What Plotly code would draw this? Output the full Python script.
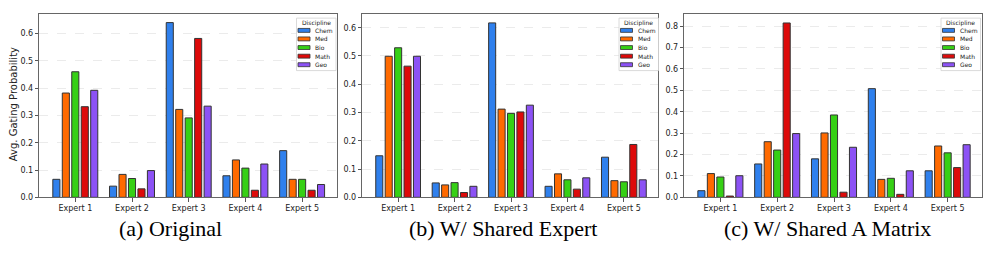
import plotly.graph_objects as go

W, H = 996, 254

experts = ["Expert 1", "Expert 2", "Expert 3", "Expert 4", "Expert 5"]
disciplines = ["Chem", "Med", "Bio", "Math", "Geo"]
colors = ["#2f80ed", "#ff6a00", "#36d015", "#dd0a0a", "#8c52f5"]

# (a) Original
orig_chem = [0.066, 0.041, 0.640, 0.079, 0.171]
orig_med = [0.382, 0.084, 0.322, 0.137, 0.066]
orig_bio = [0.460, 0.069, 0.291, 0.107, 0.066]
orig_math = [0.332, 0.031, 0.582, 0.026, 0.026]
orig_geo = [0.392, 0.098, 0.334, 0.122, 0.047]

# (b) W/ Shared Expert
se_chem = [0.147, 0.051, 0.617, 0.039, 0.142]
se_med = [0.499, 0.044, 0.312, 0.083, 0.059]
se_bio = [0.529, 0.052, 0.297, 0.062, 0.055]
se_math = [0.464, 0.017, 0.302, 0.029, 0.187]
se_geo = [0.499, 0.039, 0.326, 0.069, 0.062]

# (c) W/ Shared A Matrix
sa_chem = [0.031, 0.156, 0.180, 0.508, 0.124]
sa_med = [0.111, 0.260, 0.301, 0.084, 0.240]
sa_bio = [0.095, 0.221, 0.385, 0.089, 0.208]
sa_math = [0.006, 0.815, 0.024, 0.014, 0.139]
sa_geo = [0.101, 0.298, 0.234, 0.124, 0.246]

subtitles = ["(a) Original", "(b) W/ Shared Expert", "(c) W/ Shared A Matrix"]
y_title = "Avg. Gating Probability"
legend_title = "Discipline"

panels = [
    [orig_chem, orig_med, orig_bio, orig_math, orig_geo],
    [se_chem, se_med, se_bio, se_math, se_geo],
    [sa_chem, sa_med, sa_bio, sa_math, sa_geo],
]

# ---- layout geometry (pixels) ----
plot_x = [(39.3, 336.7), (362.3, 658.3), (684.3, 982.3)]
plot_top, plot_bot = 14.7, 201.3
yranges = [[0, 0.670], [0, 0.647], [0, 0.855]]
yticks = [[0, 0.1, 0.2, 0.3, 0.4, 0.5, 0.6],
          [0, 0.1, 0.2, 0.3, 0.4, 0.5, 0.6],
          [0, 0.1, 0.2, 0.3, 0.4, 0.5, 0.6, 0.7, 0.8]]
sub_cx = [170, 503, 827]
legend_left = [296.5, 619, 941]

def px(x):
    return x / W

def py(y):
    return 1 - y / H

fig = go.Figure()
pitch = 0.167
bw = 0.125
for p, series in enumerate(panels):
    sfx = "" if p == 0 else str(p + 1)
    for j, vals in enumerate(series):
        xs = [i + (j - 2) * pitch for i in range(len(experts))]
        fig.add_trace(go.Bar(
            x=xs, y=vals, width=bw, name=disciplines[j],
            marker=dict(color=colors[j], line=dict(color="#333333", width=1)),
            xaxis="x" + sfx, yaxis="y" + sfx, showlegend=False,
        ))

tickfont = dict(family="DejaVu Sans", size=8, color="#222222")
layout = dict(
    width=W, height=H, margin=dict(l=0, r=0, t=0, b=0),
    paper_bgcolor="white", plot_bgcolor="white",
    barmode="overlay", showlegend=False,
)
shapes = []
annotations = []
for p in range(3):
    sfx = "" if p == 0 else str(p + 1)
    x0, x1 = plot_x[p]
    layout["xaxis" + sfx] = dict(
        domain=[px(x0), px(x1)], range=[-0.635, 4.61],
        tickvals=list(range(len(experts))), ticktext=experts,
        ticks="outside", ticklen=3.5, tickcolor="#555555", tickwidth=1,
        showline=True, mirror=True, linecolor="#666666", linewidth=1,
        showgrid=False, zeroline=False, tickfont=tickfont,
        anchor="y" + sfx, fixedrange=True,
    )
    layout["yaxis" + sfx] = dict(
        domain=[py(plot_bot), py(plot_top)], range=yranges[p],
        tickvals=yticks[p], tickformat=".1f",
        ticks="outside", ticklen=3.5, tickcolor="#555555", tickwidth=1,
        showline=True, mirror=True, linecolor="#666666", linewidth=1,
        showgrid=True, gridcolor="#e6e6e6", griddash="dash", gridwidth=0.8,
        zeroline=False, tickfont=tickfont,
        anchor="x" + sfx, fixedrange=True,
    )
    annotations.append(dict(
        text=subtitles[p], x=px(sub_cx[p]), y=py(233), xref="paper", yref="paper",
        xanchor="center", yanchor="middle", showarrow=False,
        font=dict(family="Liberation Serif", size=22, color="black"),
    ))
    # legend box
    lx = legend_left[p]
    shapes.append(dict(type="rect", xref="paper", yref="paper",
                       x0=px(lx), x1=px(lx + 39.5), y0=py(72), y1=py(18.5),
                       fillcolor="white", line=dict(color="#d0d0d0", width=0.8),
                       layer="above"))
    annotations.append(dict(
        text=legend_title, x=px(lx + 19.5), y=py(23), xref="paper", yref="paper",
        xanchor="center", yanchor="middle", showarrow=False,
        font=dict(family="DejaVu Sans", size=6, color="#222222"),
    ))
    rows = [31, 39.7, 48.5, 57.3, 66]
    for j, d in enumerate(disciplines):
        ry = rows[j]
        shapes.append(dict(type="rect", xref="paper", yref="paper",
                           x0=px(lx + 1.5), x1=px(lx + 13.5),
                           y0=py(ry + 2), y1=py(ry - 2),
                           fillcolor=colors[j], line=dict(color="#333333", width=0.8),
                           layer="above"))
        annotations.append(dict(
            text=d, x=px(lx + 16.5), y=py(ry), xref="paper", yref="paper",
            xanchor="left", yanchor="middle", showarrow=False,
            font=dict(family="DejaVu Sans", size=6, color="#222222"),
        ))

annotations.append(dict(
    text=y_title, x=px(14.3), y=py(106), xref="paper", yref="paper",
    xanchor="center", yanchor="middle", showarrow=False, textangle=-90,
    font=dict(family="DejaVu Sans", size=10, color="#222222"),
))
layout["shapes"] = shapes
layout["annotations"] = annotations
fig.update_layout(**layout)
fig.write_html(
    "out.html",
    config={"displayModeBar": False, "staticPlot": True},
    post_script="document.body.style.margin='0px';document.body.style.overflow='hidden';",
)
